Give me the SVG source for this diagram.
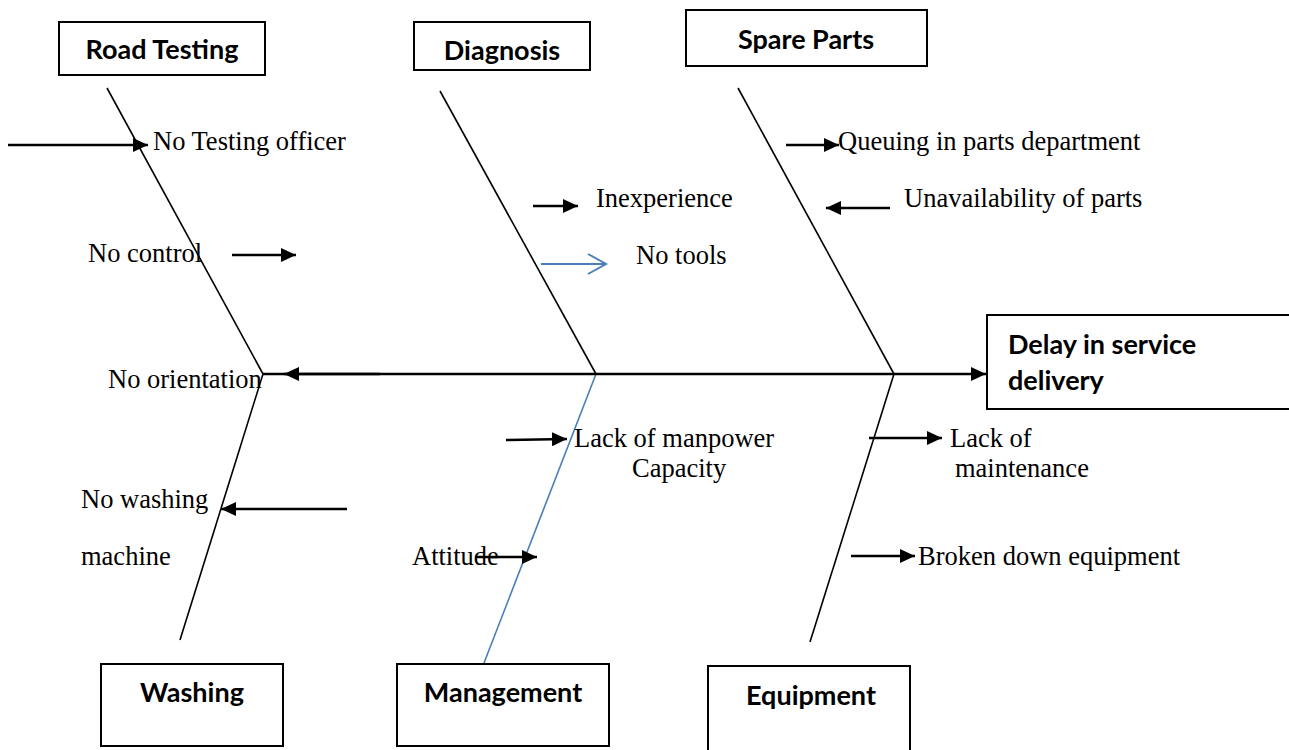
<svg xmlns="http://www.w3.org/2000/svg" width="1289" height="750" viewBox="0 0 1289 750">
<style>
.box{fill:#fff;stroke:#000;stroke-width:2}
.title{font-family:Lato,"Liberation Sans",sans-serif;font-weight:bold;font-size:27px;fill:#000}
.lbl{font-family:"Liberation Serif","Times New Roman",serif;font-size:26.5px;fill:#000}
.bone{stroke:#000;stroke-width:1.6;fill:none}
.blue{stroke:#4a7ebb;stroke-width:1.6;fill:none}
.arr{stroke:#000;stroke-width:2.5;fill:none;marker-end:url(#ah)}
</style>
<defs>
<marker id="ah" markerUnits="userSpaceOnUse" markerWidth="16" markerHeight="14" refX="15" refY="7" orient="auto">
<path d="M0,0 L15,7 L0,14 Z" fill="#000"/>
</marker>
<marker id="oh" markerUnits="userSpaceOnUse" markerWidth="24" markerHeight="24" refX="20" refY="12" orient="auto">
<path d="M2,2 L20,12 L2,22" fill="none" stroke="#4a7ebb" stroke-width="2"/>
</marker>
<clipPath id="clipDiag"><rect x="415" y="23" width="174" height="46"/></clipPath>
</defs>
<rect width="1289" height="750" fill="#fff"/>
<g id="connectors">
<line class="bone" x1="107" y1="88" x2="263" y2="374"/>
<line class="bone" x1="263" y1="374" x2="180" y2="640"/>
<line class="bone" x1="440" y1="91" x2="596" y2="374"/>
<line class="blue" x1="596" y1="374" x2="484" y2="663"/>
<line class="bone" x1="738" y1="88" x2="894" y2="374"/>
<line class="bone" x1="894" y1="374" x2="810" y2="642"/>
<line class="arr" x1="263" y1="374" x2="986" y2="374"/>
<line class="arr" x1="380" y1="374" x2="284" y2="374"/>
<line class="arr" x1="8" y1="145" x2="148" y2="145"/>
<line class="arr" x1="232" y1="255" x2="296" y2="255"/>
<line class="arr" x1="533" y1="206" x2="578" y2="206"/>
<line x1="541" y1="264" x2="606" y2="264" stroke="#4a7ebb" stroke-width="2" marker-end="url(#oh)"/>
<line class="arr" x1="786" y1="145" x2="839" y2="145"/>
<line class="arr" x1="890" y1="208" x2="826" y2="208"/>
<line class="arr" x1="506" y1="440" x2="567" y2="439"/>
<line class="arr" x1="347" y1="509" x2="221" y2="509"/>
<line class="arr" x1="475" y1="557" x2="537" y2="557"/>
<line class="arr" x1="869" y1="438" x2="942" y2="438"/>
<line class="arr" x1="851" y1="556" x2="915" y2="556"/>
</g>
<g id="road-testing"><rect class="box" x="59" y="22" width="206" height="53"/><text class="title" x="162" y="59" text-anchor="middle">Road Testing</text></g>
<g id="diagnosis"><rect class="box" x="414" y="22" width="176" height="48"/><text class="title" x="502" y="60" text-anchor="middle" clip-path="url(#clipDiag)">Diagnosis</text></g>
<g id="spare-parts"><rect class="box" x="686" y="10" width="241" height="56"/><text class="title" x="806" y="49" text-anchor="middle">Spare Parts</text></g>
<g id="delay"><rect class="box" x="987" y="315" width="310" height="94"/><text class="title" x="1008" y="354">Delay in service</text><text class="title" x="1008" y="390">delivery</text></g>
<g id="washing"><rect class="box" x="101" y="664" width="182" height="82"/><text class="title" x="192" y="702" text-anchor="middle">Washing</text></g>
<g id="management"><rect class="box" x="397" y="664" width="212" height="82"/><text class="title" x="503" y="702" text-anchor="middle">Management</text></g>
<g id="equipment"><rect class="box" x="708" y="666" width="202" height="90"/><text class="title" x="811" y="705" text-anchor="middle">Equipment</text></g>
<g id="labels">
<text class="lbl" x="153" y="150">No Testing officer</text>
<text class="lbl" x="88" y="262">No control</text>
<text class="lbl" x="108" y="388">No orientation</text>
<text class="lbl" x="596" y="207">Inexperience</text>
<text class="lbl" x="636" y="264">No tools</text>
<text class="lbl" x="838" y="150">Queuing in parts department</text>
<text class="lbl" x="904" y="207">Unavailability of parts</text>
<text class="lbl" x="574" y="447">Lack of manpower</text>
<text class="lbl" x="632" y="477">Capacity</text>
<text class="lbl" x="81" y="508">No washing</text>
<text class="lbl" x="81" y="565">machine</text>
<text class="lbl" x="412" y="565">Attitude</text>
<text class="lbl" x="950" y="447">Lack of</text>
<text class="lbl" x="955" y="477">maintenance</text>
<text class="lbl" x="918" y="565">Broken down equipment</text>
</g>
</svg>
